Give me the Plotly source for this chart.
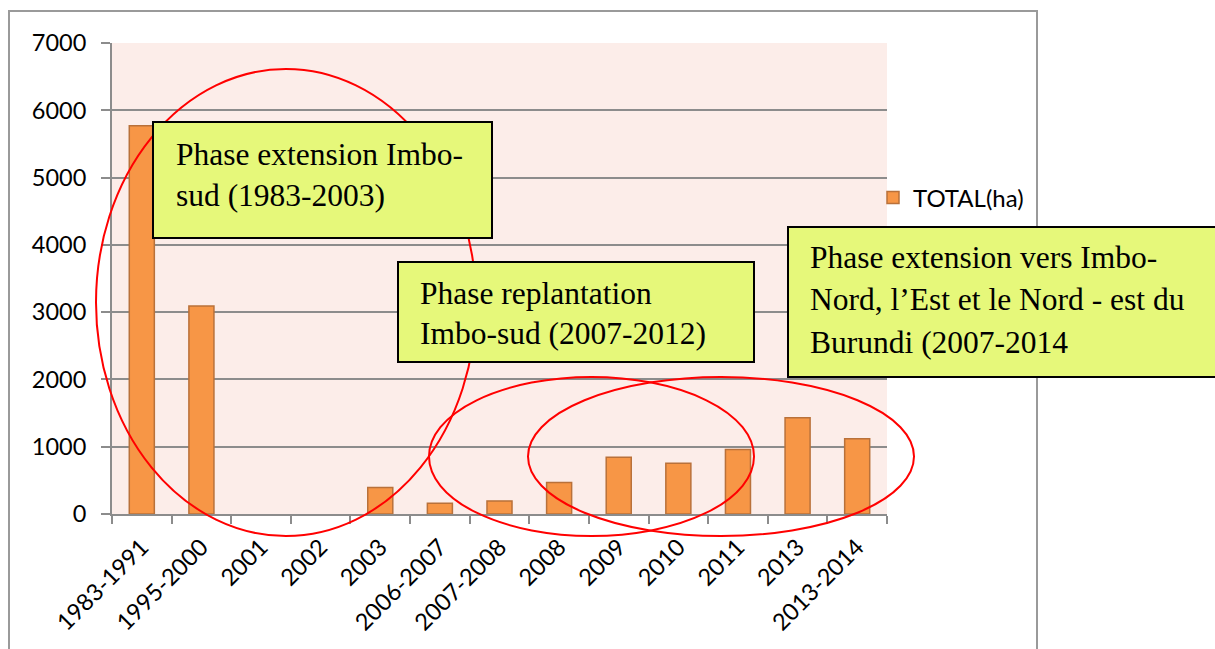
import plotly.graph_objects as go

# Planted area per period (hectares)
periods = ["1983-1991", "1995-2000", "2001", "2002", "2003", "2006-2007", "2007-2008",
           "2008", "2009", "2010", "2011", "2013", "2013-2014"]
total_ha = [5770, 3090, 0, 0, 395, 160, 195, 470, 845, 755, 960, 1430, 1120]
y_ticks = [0, 1000, 2000, 3000, 4000, 5000, 6000, 7000]

W, H = 1215, 649
L, R, T, B = 112, 887, 43, 514  # plot area in pixels


def px(x):
    return (x - L) / (R - L)


def py(y):
    return (B - y) / (B - T)


# empty periods get no outline so nothing shows on the baseline
outline_w = [1.5 if v > 0 else 0 for v in total_ha]

fig = go.Figure()
fig.add_trace(go.Bar(
    x=periods, y=total_ha, name="TOTAL(ha)",
    marker=dict(color="#F79646", line=dict(color="#B9713A", width=outline_w)),
    showlegend=True,
))

shapes = []
# outer chart frame
shapes.append(dict(type="rect", xref="paper", yref="paper",
                   x0=px(9), x1=px(1037), y0=py(11), y1=py(660),
                   line=dict(color="#9A9A9A", width=2), fillcolor="rgba(0,0,0,0)", layer="below"))
# phase ellipses
for (x0, x1, y0, y1) in [(96, 476, 69, 536), (429, 754, 377, 536), (528, 914, 377, 536)]:
    shapes.append(dict(type="circle", xref="paper", yref="paper",
                       x0=px(x0), x1=px(x1), y0=py(y0), y1=py(y1),
                       line=dict(color="#FF0000", width=2), layer="above"))
# phase label boxes
boxes = [(153, 492, 122, 238), (398, 754, 262, 362), (788, 1230, 227, 377)]
for (x0, x1, y0, y1) in boxes:
    shapes.append(dict(type="rect", xref="paper", yref="paper",
                       x0=px(x0), x1=px(x1), y0=py(y0), y1=py(y1),
                       line=dict(color="#000000", width=2), fillcolor="#E6F87A", layer="above"))

phase_lines = [
    (174, 155, "Phase extension Imbo-"),
    (174, 195, "sud (1983-2003)"),
    (418, 293, "Phase replantation"),
    (418, 333, "Imbo-sud (2007-2012)"),
    (808, 257, "Phase extension vers Imbo-"),
    (808, 299, "Nord, l’Est et le Nord - est du"),
    (808, 342, "Burundi (2007-2014"),
]
annotations = []
for (x, y, txt) in phase_lines:
    annotations.append(dict(xref="paper", yref="paper", x=px(x), y=py(y),
                            xanchor="left", yanchor="middle", showarrow=False, text=txt,
                            font=dict(family="Liberation Serif", size=31.5, color="#000000")))

fig.update_layout(
    width=W, height=H,
    margin=dict(l=L, r=W - R, t=T, b=H - B, pad=0),
    paper_bgcolor="#FFFFFF",
    plot_bgcolor="#FCEDE9",
    bargap=0.58,
    shapes=shapes,
    annotations=annotations,
    font=dict(family="Lato", size=23, color="#000000"),
    legend=dict(x=px(873), y=py(198), xanchor="left", yanchor="middle",
                font=dict(family="Lato", size=24), bgcolor="rgba(0,0,0,0)",
                itemwidth=30, tracegroupgap=0),
)
fig.update_xaxes(
    type="category", range=[-0.5, len(periods) - 0.5],
    showline=True, linecolor="#8C8C8C", linewidth=2,
    ticks="outside", tickson="boundaries", ticklen=8, tickcolor="#8C8C8C", tickwidth=2,
    tickangle=-45, tickfont=dict(family="Lato", size=23.5), showgrid=False,
    ticklabelstandoff=8,
)
fig.update_yaxes(
    range=[0, 7000], tickvals=y_ticks,
    showline=True, linecolor="#8C8C8C", linewidth=2,
    ticks="outside", ticklen=9, tickcolor="#8C8C8C", tickwidth=2,
    showgrid=True, gridcolor="#8C8C8C", gridwidth=1.5, zeroline=False,
    tickfont=dict(family="Lato", size=23.5), ticklabelstandoff=10,
)

fig.write_html("out.html")
